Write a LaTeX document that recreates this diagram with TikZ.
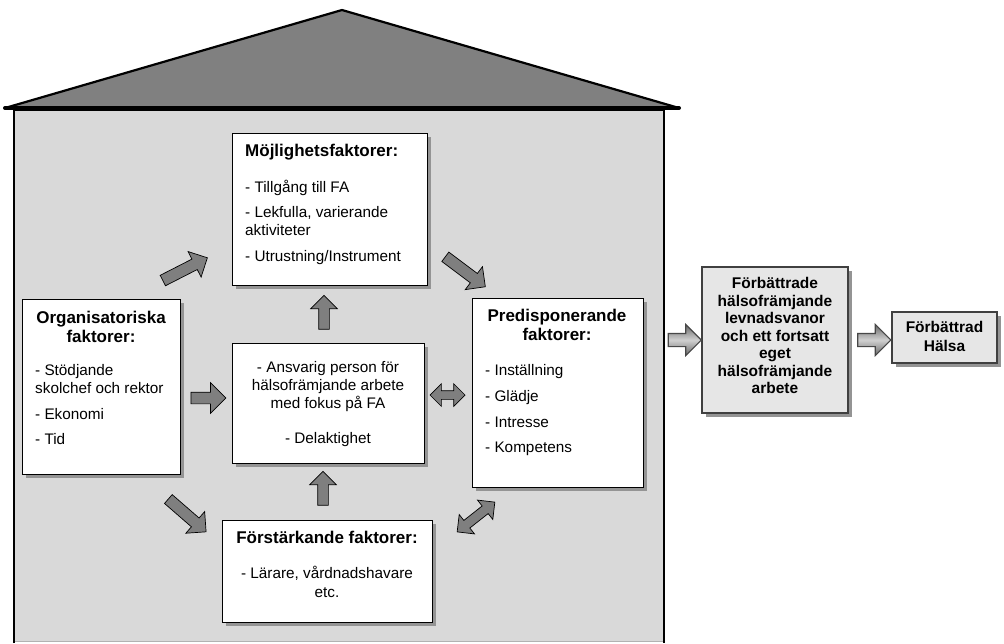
\documentclass[tikz,border=0pt]{standalone}
\usepackage{fontspec}
\setmainfont{Liberation Sans}
\usetikzlibrary{shapes.arrows,shadows}

\definecolor{wallgray}{HTML}{D9D9D9}
\definecolor{roofgray}{HTML}{808080}
\definecolor{arrowgray}{HTML}{7F7F7F}
\definecolor{outcomegray}{HTML}{E6E6E6}
\definecolor{framegray}{HTML}{404040}

\newcommand{\txtbody}{\fontsize{15.3}{17.8}\selectfont}
\newcommand{\txthead}{\fontsize{17}{19.5}\selectfont\bfseries}
\newcommand{\txtout}{\fontsize{15.5}{17.5}\selectfont\bfseries}

\begin{document}
\begin{tikzpicture}[x=1pt,y=-1pt,
  boxshadow/.style={drop shadow={shadow xshift=4pt,shadow yshift=-4pt,fill=black!42,opacity=1}},
  factorbox/.style={draw=black,line width=0.8pt,fill=white,inner sep=0pt,boxshadow},
  outcomebox/.style={draw=framegray,line width=1.2pt,fill=outcomegray,inner sep=0pt,boxshadow},
  txt/.style={inner sep=0pt,font=\txtbody},
  % length, head width, half shaft, head extend
  blockarrow/.style n args={4}{single arrow,draw=black,line width=0.7pt,fill=arrowgray,
    inner xsep=0pt,inner ysep=#3,minimum height=#1,minimum width=#2,
    single arrow head extend=#4,single arrow head indent=0pt,
    midway,sloped,allow upside down},
  twoway/.style n args={4}{double arrow,draw=black,line width=0.7pt,fill=arrowgray,
    inner xsep=0pt,inner ysep=#3,minimum height=#1,minimum width=#2,
    double arrow head extend=#4,double arrow head indent=0pt,
    midway,sloped,allow upside down},
  hollowarrow/.style={single arrow,draw=black!72,line width=1.1pt,
    top color=black!60,bottom color=black!60,middle color=black!18,
    inner xsep=0pt,inner ysep=6pt,minimum height=33,minimum width=30,
    single arrow head extend=9pt,single arrow head indent=0pt,
    midway,sloped,allow upside down}
]
\useasboundingbox (0,0) rectangle (1004,643);

% walls and roof of the house
\fill[wallgray] (14,110) rectangle (664,641);
\draw[black!30,line width=0.8pt] (14,641) -- (664,641);
\draw[line width=2.5pt] (14,643) -- (14,110) -- (664,110) -- (664,643);
\filldraw[fill=roofgray,draw=black,line width=2.2pt,line join=round]
  (5,108) -- (342,10) -- (679,108) -- cycle;
\draw[line width=4pt,line cap=round] (5,108) -- (679,108);

% factor boxes
\node[factorbox,minimum width=195,minimum height=152] (moj) at (329.5,209) {};
\node[factorbox,minimum width=158,minimum height=175] (org) at (101,386.5) {};
\node[factorbox,minimum width=192,minimum height=120] (ctr) at (328,403) {};
\node[factorbox,minimum width=171,minimum height=189] (pred) at (557.5,392.5) {};
\node[factorbox,minimum width=210,minimum height=102] (fst) at (327,571) {};

% outcome boxes
\node[outcomebox,minimum width=146,minimum height=146] (fbt) at (775,340) {};
\node[outcomebox,minimum width=105,minimum height=51] (fh) at (944.5,337.5) {};

% texts
\node[txt,anchor=north west,align=left] (mojtxt) at (245,143.6)
  {{\txthead Möjlighetsfaktorer:}\\[18.5pt]
   - Tillgång till FA\\[7.5pt]
   - Lekfulla, varierande\\
   aktiviteter\\[8pt]
   - Utrustning/Instrument};

\node[txt,font=\txthead,anchor=north,align=center] (orghead) at (101,310.6)
  {Organisatoriska\\faktorer:};
\node[txt,anchor=north west,align=left] (orgtxt) at (35,364.3)
  {- Stödjande\\skolchef och rektor\\[8pt]- Ekonomi\\[8pt]- Tid};

\node[txt,anchor=north,align=center] (ctrtxt) at (328,361.3)
  {- Ansvarig person för\\hälsofrämjande arbete\\med fokus på FA\\[18pt]- Delaktighet};

\node[txt,font=\txthead,anchor=north,align=center] (predhead) at (557,308.6)
  {Predisponerande\\faktorer:};
\node[txt,anchor=north west,align=left] (predtxt) at (485,364.3)
  {- Inställning\\[8.5pt]- Glädje\\[7.5pt]- Intresse\\[8pt]- Kompetens};

\node[txt,anchor=north,align=center] (fsttxt) at (327,530.6)
  {{\txthead Förstärkande faktorer:}\\[18pt]- Lärare, vårdnadshavare\\[1pt]etc.};

\node[txt,font=\txtout,anchor=north,align=center] (fbttxt) at (775,277.2)
  {Förbättrade\\hälsofrämjande\\levnadsvanor\\och ett fortsatt\\eget\\hälsofrämjande\\arbete};
\node[txt,font=\txtout,anchor=north,align=center] (fhtxt) at (944.5,321)
  {Förbättrad\\[2pt]Hälsa};

% arrow end points
\coordinate (orgE) at (188,398);   \coordinate (ctrW) at (223,398);
\coordinate (ctrN) at (324,332);   \coordinate (mojS) at (324,298);
\coordinate (fstN) at (323,508);   \coordinate (ctrS) at (323,474);
\coordinate (orgNE) at (160,282);  \coordinate (mojSW) at (205,259);
\coordinate (mojSE) at (443,255);  \coordinate (predNW) at (483,285);
\coordinate (orgSE) at (166,497);  \coordinate (fstNW) at (204,530);
\coordinate (fstNE) at (457,532);  \coordinate (predSW) at (495,502);
\coordinate (ctrE) at (430,395);   \coordinate (predW) at (465,395);
\coordinate (houseE) at (665,340); \coordinate (fbtW) at (698,340);
\coordinate (fbtE) at (855,340);   \coordinate (fhW) at (887,340);

% block arrows between the factors
\path (orgE) -- (ctrW) node[blockarrow={35}{30}{5.5pt}{9.5pt}] (a1) {};
\path (ctrN) -- (mojS) node[blockarrow={34}{26}{5pt}{8pt}] (a2) {};
\path (fstN) -- (ctrS) node[blockarrow={34}{26}{5pt}{8pt}] (a3) {};
\path (orgNE) -- (mojSW) node[blockarrow={50}{28}{5.5pt}{8.5pt}] (a4) {};
\path (mojSE) -- (predNW) node[blockarrow={50}{28}{5.5pt}{8.5pt}] (a5) {};
\path (orgSE) -- (fstNW) node[blockarrow={50}{28}{5.5pt}{8.5pt}] (a6) {};
\path (fstNE) -- (predSW) node[twoway={48}{24}{4.5pt}{7.5pt}] (a7) {};
\path (ctrE) -- (predW) node[twoway={35}{22}{4pt}{7pt}] (a8) {};

% arrows towards the outcomes
\path (houseE) -- (fbtW) node[hollowarrow] (a9) {};
\path (fbtE) -- (fhW) node[hollowarrow] (a10) {};
\end{tikzpicture}
\end{document}
